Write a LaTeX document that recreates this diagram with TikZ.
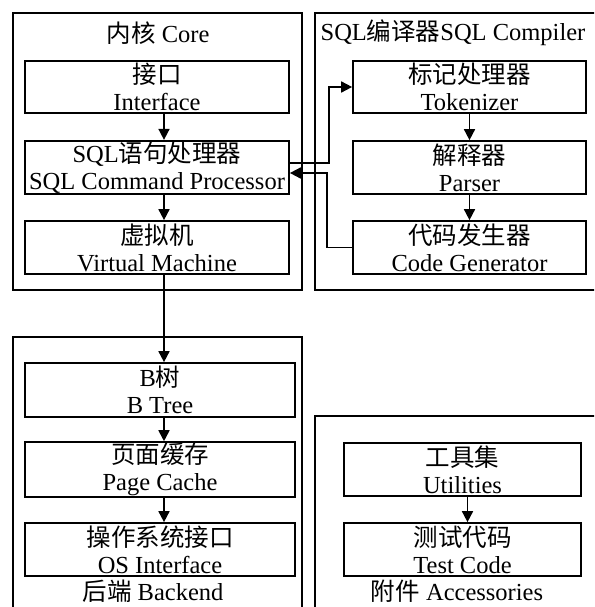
\documentclass[tikz,border=0pt]{standalone}
\usepackage{fontspec}
\setmainfont{Liberation Serif}
\newfontfamily\cjk{Noto Sans CJK SC}
\newcommand{\zh}[1]{{\cjk #1}}
\usetikzlibrary{arrows.meta,positioning}

\begin{document}
\begin{tikzpicture}[x=1pt,y=-1pt,line width=1.7pt,
    frame/.style={draw},
    blk/.style={draw,align=center,inner sep=1pt,font=\fontsize{24.5}{27}\selectfont},
    ttl/.style={inner sep=0pt,font=\fontsize{24.5}{27}\selectfont},
    arr/.style={-{Triangle[length=11pt,width=11pt]}}]
    \useasboundingbox (0,0) rectangle (594,607);
    \clip (0,0) rectangle (594,607);
    % outer frames
    \draw[frame] (13,13) rectangle (302,290);
    \draw[frame] (315,13) rectangle (604,290);
    \draw[frame] (13,337) rectangle (302,620);
    \draw[frame] (315,416) rectangle (604,620);
    \node[ttl] (tcore) at (158,33) {\zh{内核} Core};
    \node[ttl] (tcomp) at (453,33) {SQL\zh{编译器}SQL Compiler};
    \node[ttl] (tback) at (153,591) {\zh{后端} Backend};
    \node[ttl] (tacc) at (457,591) {\zh{附件} Accessories};
    % core
    \node[blk,minimum width=264,minimum height=52] (iface) at (157,87) {\zh{接口}\\Interface};
    \node[blk,minimum width=264,minimum height=53] (sqlp) at (157,167.5) {SQL\zh{语句处理器}\\SQL Command Processor};
    \node[blk,minimum width=264,minimum height=53] (vm) at (157,247.5) {\zh{虚拟机}\\Virtual Machine};
    % compiler
    \node[blk,minimum width=233,minimum height=52] (tok) at (469.5,87) {\zh{标记处理器}\\Tokenizer};
    \node[blk,minimum width=233,minimum height=53] (parse) at (469.5,167.5) {\zh{解释器}\\Parser};
    \node[blk,minimum width=233,minimum height=53] (gen) at (469.5,247.5) {\zh{代码发生器}\\Code Generator};
    % backend
    \node[blk,minimum width=270,minimum height=54] (btree) at (160,390) {B\zh{树}\\B Tree};
    \node[blk,minimum width=270,minimum height=53] (cache) at (160,469.5) {\zh{页面缓存}\\Page Cache};
    \node[blk,minimum width=270,minimum height=53] (os) at (160,549.5) {\zh{操作系统接口}\\OS Interface};
    % accessories
    \node[blk,minimum width=237,minimum height=53] (util) at (462.5,469.5) {\zh{工具集}\\Utilities};
    \node[blk,minimum width=237,minimum height=53] (test) at (462.5,549.5) {\zh{测试代码}\\Test Code};

    \draw[arr] ([xshift=7pt]iface.south) -- ([xshift=7pt]sqlp.north);
    \draw[arr] ([xshift=7pt]sqlp.south) -- ([xshift=7pt]vm.north);
    \draw[arr] ([xshift=7pt]vm.south) -- ([xshift=4pt]btree.north);
    \draw[arr] ([xshift=4pt]btree.south) -- ([xshift=4pt]cache.north);
    \draw[arr] ([xshift=4pt]cache.south) -- ([xshift=4pt]os.north);
    \draw[arr] (tok) -- (parse);
    \draw[arr] (parse) -- (gen);
    \draw[arr] ([xshift=5pt]util.south) -- ([xshift=5pt]test.north);
    % to and from the compiler
    \draw[arr] ([yshift=4.5pt]sqlp.east) -- ++(39,0) |- (tok.west);
    \draw[arr] (gen.west) -- ++(-25,0) |- ([yshift=-5.5pt]sqlp.east);
\end{tikzpicture}
\end{document}
